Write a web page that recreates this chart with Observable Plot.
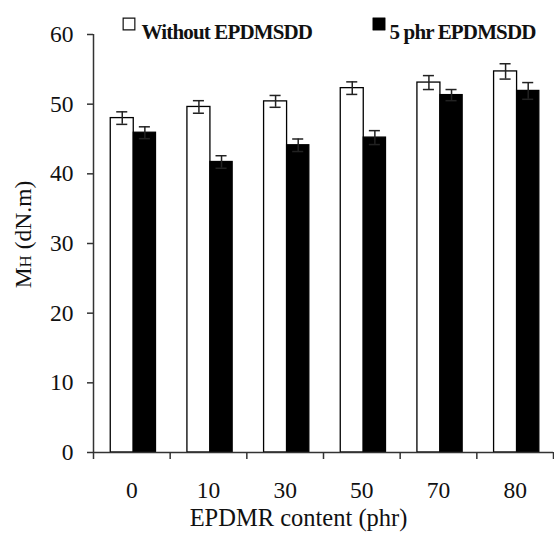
<!DOCTYPE html>
<html>
<head>
<meta charset="utf-8">
<script src="https://cdn.jsdelivr.net/npm/d3@7"></script>
<script src="https://cdn.jsdelivr.net/npm/@observablehq/plot@0.6"></script>
<style>
  html, body { margin: 0; padding: 0; background: #fff; }
  #chart svg { display: block; }
  #chart svg, #chart svg text, #chart svg tspan { font-family: "Liberation Serif", "DejaVu Serif", serif !important; }
</style>
</head>
<body>
<div id="chart"></div>
<script>
const categories = ["0", "10", "30", "50", "70", "80"];
const seriesNames = ["Without EPDMSDD", "5 phr EPDMSDD"];
const withoutValues = [48.0, 49.6, 50.4, 52.3, 53.1, 54.7];
const withValues = [45.9, 41.7, 44.1, 45.2, 51.3, 51.9];
const withoutErrors = [0.9, 0.9, 0.85, 0.9, 1.0, 1.1];
const withErrors = [0.85, 0.9, 0.9, 1.0, 0.8, 1.2];
const yTicks = [0, 10, 20, 30, 40, 50, 60];
const seriesFills = ["#ffffff", "#000000"];
const xTitle = "EPDMR content (phr)";
const yTitle = "MH (dN.m)";

const font = "Liberation Serif";

// bar placement within each category slot (fraction of slot)
const barEdges = [[0.225, 0.525], [0.525, 0.815]];
const capHalf = 0.072;

const rows = [];
categories.forEach((c, i) => {
  [withoutValues, withValues].forEach((vals, s) => {
    const errs = s === 0 ? withoutErrors : withErrors;
    const x1 = i + barEdges[s][0], x2 = i + barEdges[s][1];
    rows.push({
      cat: c, series: seriesNames[s], s,
      value: vals[i], err: errs[i],
      x1, x2, xc: (x1 + x2) / 2,
      fill: seriesFills[s]
    });
  });
});

const boundaries = d3.range(categories.length + 1);
const centers = categories.map((c, i) => i + 0.5);

const legendText = {
  frameAnchor: "top-left", dy: -10.5, textAnchor: "start",
  fontSize: 21, fontWeight: "bold", fill: "#111"
};

const chart = Plot.plot({
  width: 554,
  height: 538,
  marginLeft: 93,
  marginRight: 1,
  marginTop: 34,
  marginBottom: 86,
  style: { fontFamily: font, color: "#111", background: "#fff", overflow: "visible" },
  x: { type: "linear", domain: [0, categories.length] },
  y: { domain: [0, 60] },
  marks: [
    Plot.rect(rows, {
      x1: "x1", x2: "x2", y1: 0, y2: "value",
      fill: "fill", stroke: "#000", strokeWidth: 1.3
    }),
    Plot.ruleX(rows, {
      x: "xc", y1: d => d.value - d.err, y2: d => d.value + d.err,
      stroke: "#222", strokeWidth: 1.5
    }),
    Plot.ruleY(rows, {
      y: d => d.value + d.err, x1: d => d.xc - capHalf, x2: d => d.xc + capHalf,
      stroke: "#222", strokeWidth: 1.5
    }),
    Plot.ruleY(rows, {
      y: d => d.value - d.err, x1: d => d.xc - capHalf, x2: d => d.xc + capHalf,
      stroke: "#222", strokeWidth: 1.5
    }),
    // axis lines
    Plot.ruleX([0], { y1: 0, y2: 60, stroke: "#333", strokeWidth: 1.5 }),
    Plot.ruleY([0], { stroke: "#333", strokeWidth: 1.5 }),
    Plot.axisY({
      ticks: yTicks, tickSize: 6, tickPadding: 14, fontSize: 23.5,
      label: null, stroke: "#333", strokeWidth: 1.5
    }),
    Plot.axisX({
      ticks: boundaries, tickSize: 7, tickFormat: () => "",
      label: null, stroke: "#333", strokeWidth: 1.5
    }),
    Plot.axisX({
      ticks: centers, tickSize: 0, tickPadding: 29, fontSize: 23.5,
      tickFormat: d => categories[Math.floor(d)], label: null
    }),
    // axis titles
    Plot.text([xTitle], {
      frameAnchor: "bottom", dx: -25, dy: 73, fontSize: 24.5, fill: "#111"
    }),
    Plot.text([yTitle], {
      frameAnchor: "left", rotate: -90, dx: -70, dy: -9, fontSize: 23.5,
      textAnchor: "middle", fill: "#111"
    }),
    // legend
    Plot.dot([0], {
      frameAnchor: "top-left", dx: 35.5, dy: -10.5, symbol: "square", r: 6.6,
      fill: "#fff", stroke: "#111", strokeWidth: 1.2
    }),
    Plot.text([seriesNames[0]], { ...legendText, dx: 48 }),
    Plot.dot([0], {
      frameAnchor: "top-left", dx: 285.5, dy: -10.5, symbol: "square", r: 7,
      fill: "#000", stroke: "#000", strokeWidth: 0.5
    }),
    Plot.text([seriesNames[1]], { ...legendText, dx: 296 })
  ]
});

chart.setAttribute("font-family", font);
const sel = d3.select(chart);
sel.selectAll("g, text").attr("font-family", font);

sel.selectAll("text").each(function () {
  const t = d3.select(this);
  if (this.textContent === seriesNames[0] || this.textContent === seriesNames[1]) {
    t.attr("letter-spacing", "-0.85px");
  }
  // make the "H" of MH a smaller subscript-like letter
  if (this.textContent === yTitle) {
    t.text("");
    t.attr("text-anchor", "middle");
    t.append("tspan").text("M");
    t.append("tspan").attr("font-size", 17).text("H");
    t.append("tspan").text(" (dN.m)");
  }
});

document.getElementById("chart").appendChild(chart);
</script>
</body>
</html>
